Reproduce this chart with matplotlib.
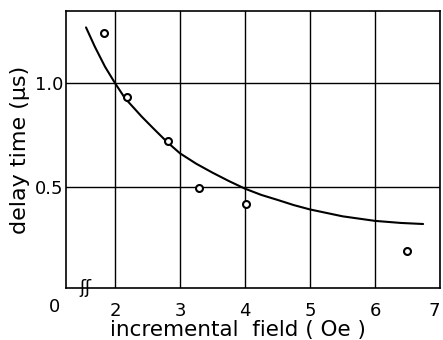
import matplotlib
matplotlib.use("Agg")
import matplotlib.pyplot as plt

# measured data points
field_pts = [1.83, 2.18, 2.82, 3.29, 4.01, 6.49]
delay_pts = [1.24, 0.933, 0.721, 0.492, 0.415, 0.192]

# hand-drawn fitted curve
curve_x = [1.554, 1.69, 1.846, 2.0, 2.154, 2.3, 2.41, 2.59, 2.8, 3.0, 3.25, 3.5,
           3.75, 4.0, 4.25, 4.5, 4.75, 5.0, 5.5, 6.0, 6.4, 6.74]
curve_y = [1.266, 1.173, 1.077, 0.998, 0.925, 0.875, 0.837, 0.78, 0.715, 0.66, 0.61, 0.567,
           0.527, 0.49, 0.46, 0.436, 0.411, 0.39, 0.357, 0.335, 0.325, 0.32]

xticks = [2, 3, 4, 5, 6, 7]
yticks = [0.5, 1.0]
ytick_labels = ["0.5", "1.0"]

plt.rcParams['font.family'] = ['DejaVu Sans']

fig = plt.figure(figsize=(4.43, 3.40), dpi=100)
ax = fig.add_axes([66/443, 52/340, 374/443, 277/340])

ax.set_xlim(1.246, 7.0)
ax.set_ylim(0.012, 1.345)

ax.set_xticks(xticks)
ax.set_xticklabels([str(t) for t in xticks], fontsize=13)
ax.get_xticklabels()[-1].set_ha('right')
ax.set_yticks(yticks)
ax.set_yticklabels(ytick_labels, fontsize=13)
ax.tick_params(axis='x', length=0, pad=10)
ax.tick_params(axis='y', length=0, pad=2)

ax.grid(True, color='black', linewidth=1.0)
ax.set_axisbelow(True)
for s in ax.spines.values():
    s.set_linewidth(1.2)

ax.plot(curve_x, curve_y, color='black', linewidth=1.5, solid_capstyle='round',
        solid_joinstyle='round')
ax.plot(field_pts, delay_pts, linestyle='none', marker='o', markersize=5,
        markerfacecolor='white', markeredgecolor='black', markeredgewidth=1.5)

# origin label and axis-break mark
ax.text(-0.032, -0.07, "0", transform=ax.transAxes, fontsize=13,
        ha='center', va='center')
ax.text(1.55, 0.012, "ʃʃ", fontsize=13, ha='center', va='center')

ax.set_xlabel("incremental  field ( Oe )", fontsize=15.5, va='center')
ax.xaxis.set_label_coords(0.459, -0.152)
ax.set_ylabel("delay time (μs)", fontsize=16, va='center')
ax.yaxis.set_label_coords(-0.122, 0.5)

fig.savefig("out.png", dpi=100)
